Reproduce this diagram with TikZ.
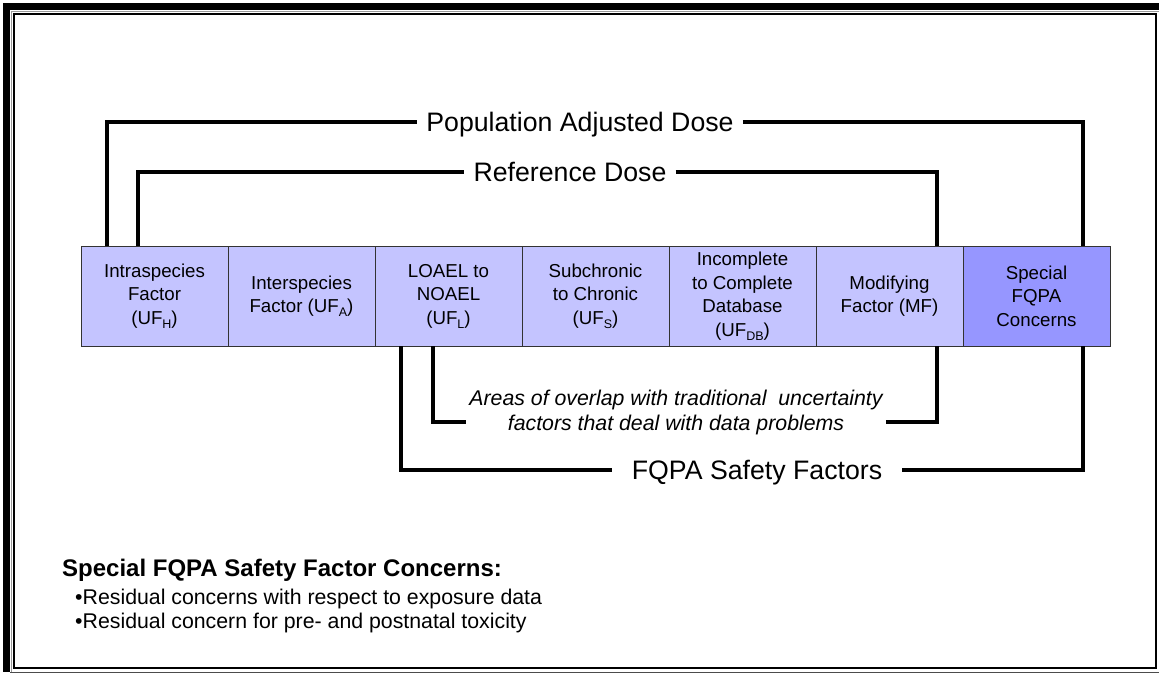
\documentclass[tikz,border=0pt]{standalone}
\usepackage{fontspec}
\setmainfont{Liberation Sans}
\usepackage{xcolor}
\definecolor{factorblue}{HTML}{C4C4FF}
\definecolor{fqpablue}{HTML}{9696FF}
\usetikzlibrary{positioning}
\newcommand{\ufsub}[1]{\raisebox{-0.4ex}{\fontsize{12.5}{12}\selectfont #1}}

\begin{document}
\begin{tikzpicture}[x=1pt, y=-1pt,
        factor/.style={rectangle, draw=black!80, line width=1pt, fill=factorblue, minimum width=147pt, minimum height=100pt, inner sep=0pt, outer sep=0pt, align=center, font=\fontsize{18.7}{23.5}\selectfont},
        special/.style={factor, fill=fqpablue},
        dose/.style={inner xsep=9pt, inner ysep=0pt, text height=19pt, text depth=0pt, font=\fontsize{26.7}{30}\selectfont},
        overlap/.style={inner xsep=3pt, inner ysep=0pt, align=center, font=\fontsize{21.3}{25}\selectfont\itshape},
        note/.style={anchor=base west, inner sep=0pt, font=\fontsize{21.3}{24}\selectfont},
        bracket/.style={line width=4.5pt}
    ]
        \useasboundingbox (0,0) rectangle (1159,675);

        % Frame
        \fill (3,3) rectangle (10,672);
        \fill (3,3) rectangle (1159,9.5);
        \draw[black!40, line width=1pt] (11,672) -- (11,11) -- (1159,11);
        \draw[line width=1.8pt] (13.7,13.7) rectangle (1156,668);
        \draw[black!70, line width=1.5pt] (10,672.5) -- (1159,672.5);

        % Factors
        \node[factor, anchor=north west] (intra) at (81,246) {Intraspecies\\Factor\\(UF\ufsub{H})};
        \node[factor, right=0pt of intra] (inter) {Interspecies\\Factor (UF\ufsub{A})};
        \node[factor, right=0pt of inter] (loael) {LOAEL to\\NOAEL\\(UF\ufsub{L})};
        \node[factor, right=0pt of loael] (subchr) {Subchronic\\to Chronic\\(UF\ufsub{S})};
        \node[factor, right=0pt of subchr] (datab) {Incomplete\\to Complete\\Database\\(UF\ufsub{DB})};
        \node[factor, right=0pt of datab] (modif) {Modifying\\Factor (MF)};
        \node[special, right=0pt of modif] (special) {Special\\FQPA\\Concerns};

        % Bracket labels
        \node[dose] (pad) at (580,122) {Population Adjusted Dose};
        \node[dose] (rfd) at (570,172) {Reference Dose};
        \node[dose, inner xsep=20pt] (fqpa) at (757,470) {FQPA Safety Factors};
        \node[overlap] (areas) at (676,412) {Areas of overlap with traditional\ \ uncertainty\\factors that deal with data problems};

        % Bracket ends
        \coordinate (padL) at ([xshift=26pt]intra.north west);
        \coordinate (padR) at ([xshift=120pt]special.north west);
        \coordinate (rfdL) at ([xshift=57pt]intra.north west);
        \coordinate (rfdR) at ([xshift=121pt]modif.north west);
        \coordinate (fqpaL) at ([xshift=26pt]loael.south west);
        \coordinate (fqpaR) at ([xshift=120pt]special.south west);
        \coordinate (areasL) at ([xshift=58pt]loael.south west);
        \coordinate (areasR) at ([xshift=121pt]modif.south west);

        % Brackets
        \draw[bracket] (padL) |- (pad.west);
        \draw[bracket] (pad.east) -| (padR);
        \draw[bracket] (rfdL) |- (rfd.west);
        \draw[bracket] (rfd.east) -| (rfdR);
        \draw[bracket] (fqpaL) |- (fqpa.west);
        \draw[bracket] (fqpa.east) -| (fqpaR);
        \draw[bracket] (areasL) |- ([yshift=-10pt]areas.west);
        \draw[bracket] ([yshift=-10pt]areas.east) -| (areasR);

        % Concerns
        \node[note, font=\fontsize{24}{28}\selectfont\bfseries] (concerns) at (62,576) {Special FQPA Safety Factor Concerns:};
        \node[note] (item1) at (75,604) {•Residual concerns with respect to exposure data};
        \node[note] (item2) at (75,628) {•Residual concern for pre- and postnatal toxicity};

    \end{tikzpicture}
\end{document}
